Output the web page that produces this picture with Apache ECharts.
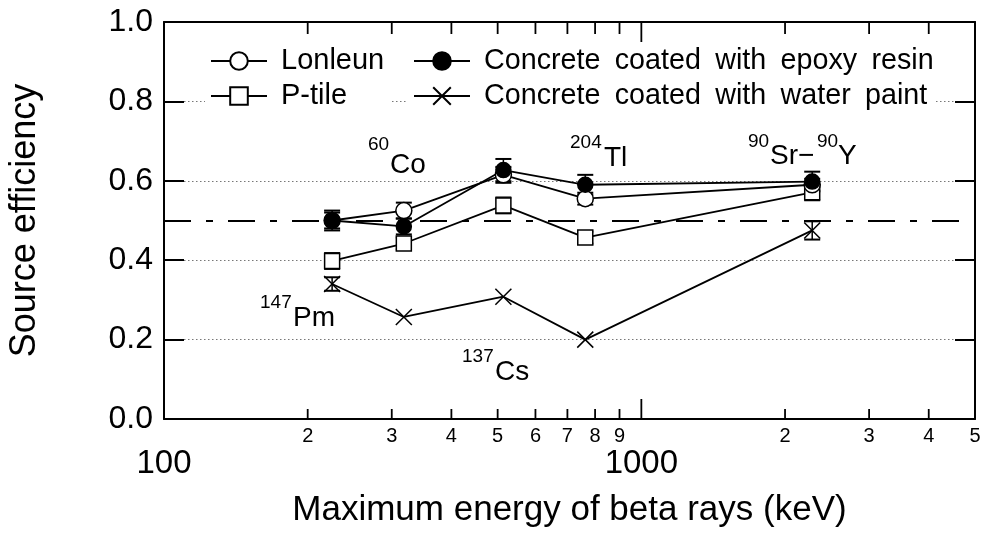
<!DOCTYPE html>
<html>
<head>
<meta charset="utf-8">
<script src="https://cdn.jsdelivr.net/npm/echarts@6/dist/echarts.min.js"></script>
<style>
  html, body { margin: 0; padding: 0; background: #fff; }
  #main { width: 983px; height: 544px; }
</style>
</head>
<body>
<div id="main"></div>
<script>
// 数据
const energies = [225, 318, 514, 763, 2280];   // keV: 147Pm, 60Co, 137Cs, 204Tl, 90Sr-90Y
const lonleun = [0.50, 0.525, 0.615, 0.555, 0.59];
const ptile   = [0.398, 0.442, 0.538, 0.457, 0.571];
const epoxy   = [0.50, 0.485, 0.627, 0.59, 0.598];
const water   = [0.34, 0.257, 0.308, 0.20, 0.475];
const lonleunErr = [0.02, 0.02, 0.02, 0.015, 0.015];
const ptileErr   = [0.02, 0.015, 0.02, 0.015, 0.02];
const epoxyErr   = [0.025, 0.02, 0.028, 0.025, 0.025];
const waterErr   = [0.017, 0, 0, 0, 0.023];
const minorTicks = [200, 300, 400, 500, 600, 700, 800, 900, 2000, 3000, 4000, 5000];
const decadeTicks = [100, 1000];

const FONT = 'Liberation Sans, Arial, sans-serif';
const chart = echarts.init(document.getElementById('main'));

function pairs(vals) {
    return energies.map((e, i) => [e, vals[i]]);
}
function errPairs(vals, errs) {
    return energies.map((e, i) => [e, vals[i], errs[i]]);
}

// 误差棒
function errRender(params, api) {
    const x = api.value(0), y = api.value(1), e = api.value(2);
    if (!e) return null;
    const top = api.coord([x, y + e]);
    const bot = api.coord([x, y - e]);
    const hw = 8;
    return {
        type: 'group',
        children: [
            { type: 'line', shape: { x1: top[0], y1: top[1], x2: bot[0], y2: bot[1] }, style: { stroke: '#000', lineWidth: 1.5 } },
            { type: 'line', shape: { x1: top[0] - hw, y1: top[1], x2: top[0] + hw, y2: top[1] }, style: { stroke: '#000', lineWidth: 2 } },
            { type: 'line', shape: { x1: bot[0] - hw, y1: bot[1], x2: bot[0] + hw, y2: bot[1] }, style: { stroke: '#000', lineWidth: 2 } }
        ]
    };
}

// x 轴刻度（上下两边，向内）
function tickRender(params, api) {
    const v = api.value(0);
    const major = v === 1000;
    const b = api.coord([v, 0]);
    const t = api.coord([v, 1]);
    const st = { stroke: '#000', lineWidth: 1.8 };
    return {
        type: 'group',
        children: [
            { type: 'line', shape: { x1: b[0], y1: b[1], x2: b[0], y2: b[1] - (major ? 20 : 10) }, style: st },
            { type: 'line', shape: { x1: t[0], y1: t[1], x2: t[0], y2: t[1] + (major ? 20 : 12) }, style: st }
        ]
    };
}

function lineSeries(name, vals, symbol, fill, size) {
    return {
        name: name,
        type: 'line',
        data: pairs(vals),
        symbol: symbol,
        symbolSize: size,
        z: 3,
        lineStyle: { color: '#000', width: 1.8 },
        itemStyle: { color: fill, borderColor: '#000', borderWidth: 1.5 }
    };
}
function errSeries(vals, errs) {
    return {
        type: 'custom',
        name: 'err',
        data: errPairs(vals, errs),
        renderItem: errRender,
        z: 1,
        encode: { x: 0, y: 1 }
    };
}

const legendText = { fontSize: 29, fontFamily: FONT, color: '#000', lineHeight: 30, padding: [0, 0, 0, 9] };

const option = {
    animation: false,
    backgroundColor: '#fff',
    grid: { left: 164, right: 8, top: 22, bottom: 125, outerBoundsMode: 'none', containLabel: false },
    legend: [
        {
            data: ['Lonleun', 'P-tile'],
            orient: 'vertical',
            left: 205,
            top: 44,
            padding: [2, 6, 2, 5],
            itemGap: 5,
            itemWidth: 56,
            itemHeight: 22,
            backgroundColor: '#fff',
            textStyle: legendText
        },
        {
            data: ['Concrete coated with epoxy resin', 'Concrete coated with water paint'],
            orient: 'vertical',
            left: 408,
            top: 44,
            padding: [2, 2, 2, 5],
            itemGap: 5,
            itemWidth: 56,
            itemHeight: 22,
            backgroundColor: '#fff',
            formatter: name => name.replace(/ /g, '\u2002'),
            textStyle: Object.assign({}, legendText, { fontSize: 28.7 })
        }
    ],
    xAxis: [
        {
            type: 'log',
            min: 100,
            max: 5000,
            position: 'bottom',
            splitLine: { show: false },
            axisLine: { show: true, onZero: false, lineStyle: { color: '#000', width: 2 } },
            axisTick: { show: false },
            axisLabel: {
                show: true, customValues: minorTicks, fontSize: 20, fontFamily: FONT, color: '#000', margin: 7,
                formatter: v => String(Math.round(v / Math.pow(10, Math.floor(Math.log10(v) + 1e-9))))
            },
            name: 'Maximum energy of beta rays (keV)',
            nameLocation: 'middle',
            nameGap: 74,
            nameTextStyle: { fontSize: 35, fontFamily: FONT, color: '#000' }
        },
        {
            type: 'log',
            min: 100,
            max: 5000,
            position: 'bottom',
            splitLine: { show: false },
            axisLine: { show: false, onZero: false },
            axisTick: { show: false },
            axisLabel: {
                show: true, customValues: decadeTicks, fontSize: 33, lineHeight: 33, fontFamily: FONT, color: '#000', margin: 28,
                formatter: v => String(Math.round(v))
            }
        },
        {
            type: 'log',
            min: 100,
            max: 5000,
            position: 'top',
            splitLine: { show: false },
            axisLine: { show: true, onZero: false, lineStyle: { color: '#000', width: 2 } },
            axisTick: { show: false },
            axisLabel: { show: false }
        }
    ],
    yAxis: [
        {
            type: 'value',
            position: 'left',
            min: 0,
            max: 1,
            interval: 0.2,
            axisLine: { show: true, onZero: false, lineStyle: { color: '#000', width: 2 } },
            axisTick: { show: true, inside: true, length: 20, lineStyle: { color: '#000', width: 2 } },
            axisLabel: { fontSize: 32, fontFamily: FONT, color: '#000', margin: 11, formatter: v => v.toFixed(1) },
            splitLine: { show: true, lineStyle: { color: '#777', width: 1.2, type: [1.5, 2.5] } },
            name: 'Source efficiency',
            nameLocation: 'middle',
            nameGap: 121,
            nameTextStyle: { fontSize: 36, fontFamily: FONT, color: '#000' }
        },
        {
            type: 'value',
            position: 'right',
            min: 0,
            max: 1,
            interval: 0.2,
            axisLine: { show: true, onZero: false, lineStyle: { color: '#000', width: 2 } },
            axisTick: { show: true, inside: true, length: 20, lineStyle: { color: '#000', width: 2 } },
            axisLabel: { show: false },
            splitLine: { show: false }
        }
    ],
    series: [
        {
            type: 'custom',
            name: 'ticks',
            data: minorTicks.concat([1000]).map(v => [v, 0]),
            renderItem: tickRender,
            encode: { x: 0, y: 1 },
            silent: true,
            z: 4
        },
        errSeries(lonleun, lonleunErr),
        errSeries(ptile, ptileErr),
        errSeries(epoxy, epoxyErr),
        errSeries(water, waterErr),
        Object.assign(lineSeries('Concrete coated with water paint', water, 'path://M0,0L10,10M10,0L0,10', 'none', 16), {
            markLine: {
                silent: true,
                symbol: 'none',
                label: { show: false },
                lineStyle: { color: '#000', width: 2, type: [27, 15, 7, 15] },
                data: [{ yAxis: 0.5 }]
            }
        }),
        lineSeries('P-tile', ptile, 'rect', '#fff', 15),
        lineSeries('Lonleun', lonleun, 'circle', '#fff', 16),
        lineSeries('Concrete coated with epoxy resin', epoxy, 'circle', '#000', 15)
    ],
    graphic: [
        { type: 'text', x: 368, y: 145, style: { text: '60', fontSize: 19, fontFamily: FONT, fill: '#000', verticalAlign: 'middle' } },
        { type: 'text', x: 390, y: 165, style: { text: 'Co', fontSize: 28, fontFamily: FONT, fill: '#000', verticalAlign: 'middle' } },
        { type: 'text', x: 570, y: 143, style: { text: '204', fontSize: 19, fontFamily: FONT, fill: '#000', verticalAlign: 'middle' } },
        { type: 'text', x: 604, y: 158, style: { text: 'Tl', fontSize: 28, fontFamily: FONT, fill: '#000', verticalAlign: 'middle' } },
        { type: 'text', x: 748, y: 142, style: { text: '90', fontSize: 19, fontFamily: FONT, fill: '#000', verticalAlign: 'middle' } },
        { type: 'text', x: 770, y: 156, style: { text: 'Sr\u2212', fontSize: 28, fontFamily: FONT, fill: '#000', verticalAlign: 'middle' } },
        { type: 'text', x: 817, y: 142, style: { text: '90', fontSize: 19, fontFamily: FONT, fill: '#000', verticalAlign: 'middle' } },
        { type: 'text', x: 838, y: 156, style: { text: 'Y', fontSize: 28, fontFamily: FONT, fill: '#000', verticalAlign: 'middle' } },
        { type: 'text', x: 260, y: 303, style: { text: '147', fontSize: 19, fontFamily: FONT, fill: '#000', verticalAlign: 'middle' } },
        { type: 'text', x: 293, y: 318, style: { text: 'Pm', fontSize: 28, fontFamily: FONT, fill: '#000', verticalAlign: 'middle' } },
        { type: 'text', x: 462, y: 357, style: { text: '137', fontSize: 19, fontFamily: FONT, fill: '#000', verticalAlign: 'middle' } },
        { type: 'text', x: 495, y: 372, style: { text: 'Cs', fontSize: 28, fontFamily: FONT, fill: '#000', verticalAlign: 'middle' } }
    ]
};

chart.setOption(option);
</script>
</body>
</html>
